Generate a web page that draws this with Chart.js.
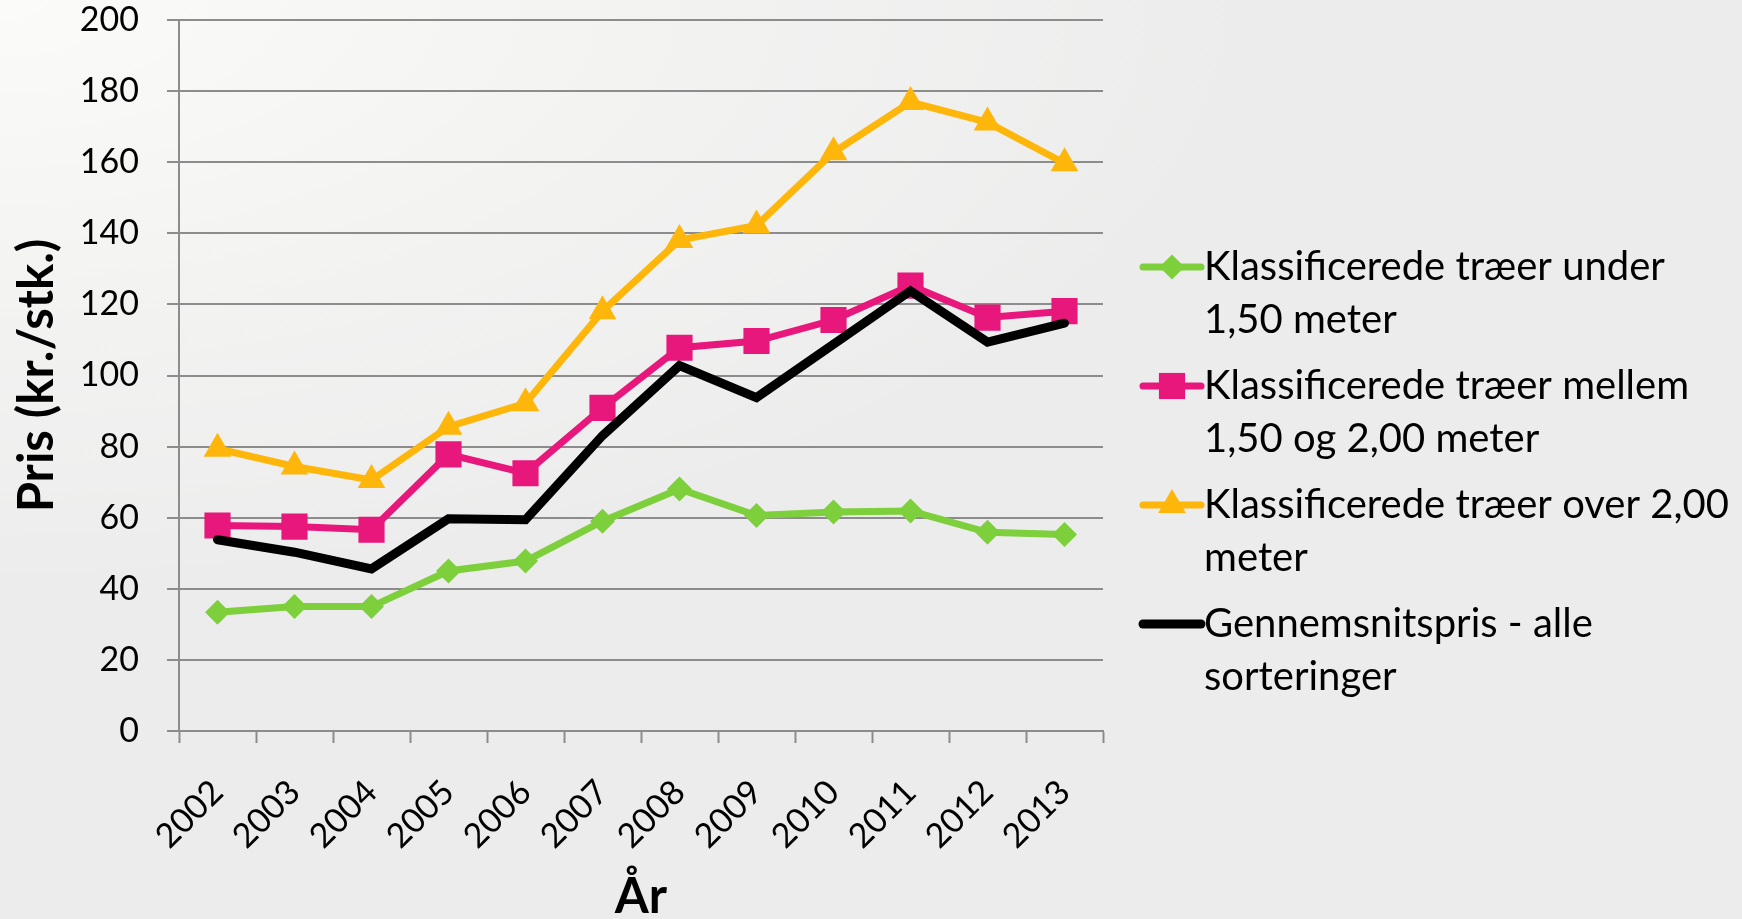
<!DOCTYPE html>
<html>
<head>
<meta charset="utf-8">
<script src="https://cdn.jsdelivr.net/npm/chart.js@4.4.0/dist/chart.umd.min.js"></script>
<style>
    html, body { margin: 0; padding: 0; }
    body {
        width: 1742px; height: 919px; overflow: hidden;
        background: radial-gradient(ellipse 90% 80% at 0% 0%, #fbfcf9 0%, #f2f3f1 45%, #ececec 80%);
    }
    #wrap { position: relative; width: 1742px; height: 919px; }
</style>
</head>
<body>
<div id="wrap"><canvas id="priceChart" width="1742" height="919"></canvas></div>
<script>
"use strict";

// data
var years = ["2002", "2003", "2004", "2005", "2006", "2007", "2008", "2009", "2010", "2011", "2012", "2013"];
var under150 = [33.4, 35.0, 35.0, 45.0, 47.8, 59.0, 68.1, 60.6, 61.6, 61.9, 55.9, 55.3];
var between150and200 = [57.8, 57.5, 56.6, 77.8, 72.5, 90.9, 107.8, 109.7, 115.6, 125.3, 116.3, 118.1];
var over200 = [79.4, 74.4, 70.6, 85.6, 92.2, 118.1, 138.1, 142.2, 162.8, 176.9, 171.2, 159.7];
var averageAll = [53.8, 50.3, 45.6, 59.7, 59.4, 83.1, 102.8, 93.8, 108.8, 123.8, 109.4, 114.7];
var legendLines = [
    ["Klassificerede træer under", "1,50 meter"],
    ["Klassificerede træer mellem", "1,50 og 2,00 meter"],
    ["Klassificerede træer over 2,00", "meter"],
    ["Gennemsnitspris - alle", "sorteringer"]
];

var green = "#7dcf3b";
var pink = "#e8177b";
var yellow = "#ffb60b";
var black = "#000000";
var gridGray = "#8c8c8c";
var fontName = "Lato";

// legend on the right, drawn by hand so labels can wrap
var sideLegend = {
    id: "sideLegend",
    afterDraw: function (chart) {
        var ctx = chart.ctx;
        var lineX = 1143, lineLen = 58, textX = 1204;
        var firstY = 267, itemGap = 119, lineH = 53;
        chart.data.datasets.forEach(function (ds, i) {
            var y = firstY + i * itemGap;
            ctx.save();
            ctx.strokeStyle = ds.borderColor;
            ctx.lineWidth = ds.borderWidth;
            ctx.lineCap = "round";
            ctx.beginPath();
            ctx.moveTo(lineX, y);
            ctx.lineTo(lineX + lineLen, y);
            ctx.stroke();
            if (ds.pointRadius > 0) {
                ctx.fillStyle = ds.pointBackgroundColor;
                Chart.helpers.drawPoint(ctx, {
                    pointStyle: ds.pointStyle, radius: ds.pointRadius, rotation: 0, borderWidth: 0
                }, lineX + lineLen / 2, y);
            }
            ctx.fillStyle = "#000";
            ctx.font = "40px " + fontName;
            ctx.textAlign = "left";
            ctx.textBaseline = "middle";
            legendLines[i].forEach(function (t, k) {
                ctx.fillText(t, textX, y + k * lineH);
            });
            ctx.restore();
        });
    }
};

var ctx = document.getElementById("priceChart");
var myChart = new Chart(ctx, {
    type: "line",
    data: {
        labels: years,
        datasets: [
            {
                label: legendLines[0].join(" "),
                data: under150,
                borderColor: green,
                backgroundColor: green,
                borderWidth: 7,
                pointStyle: "rectRot",
                pointRadius: 12.5,
                pointBackgroundColor: green,
                pointBorderWidth: 0,
                order: 1
            },
            {
                label: legendLines[1].join(" "),
                data: between150and200,
                borderColor: pink,
                backgroundColor: pink,
                borderWidth: 7,
                pointStyle: "rect",
                pointRadius: 18.5,
                pointBackgroundColor: pink,
                pointBorderWidth: 0,
                order: 1
            },
            {
                label: legendLines[2].join(" "),
                data: over200,
                borderColor: yellow,
                backgroundColor: yellow,
                borderWidth: 7,
                pointStyle: "triangle",
                pointRadius: 16,
                pointBackgroundColor: yellow,
                pointBorderWidth: 0,
                order: 1
            },
            {
                label: legendLines[3].join(" "),
                data: averageAll,
                borderColor: black,
                backgroundColor: black,
                borderWidth: 9,
                borderCapStyle: "round",
                pointRadius: 0,
                pointBackgroundColor: black,
                order: 0
            }
        ]
    },
    options: {
        responsive: false,
        animation: false,
        events: [],
        layout: { padding: { top: 20, left: 0, right: 639, bottom: 0 } },
        plugins: {
            legend: { display: false },
            tooltip: { enabled: false }
        },
        elements: { line: { tension: 0, borderJoinStyle: "miter" } },
        scales: {
            x: {
                offset: true,
                afterFit: function (scale) { scale.height = 188; },
                grid: {
                    offset: true,
                    drawOnChartArea: false,
                    drawTicks: true,
                    tickLength: 12,
                    tickWidth: 2,
                    tickColor: gridGray
                },
                border: { display: true, color: gridGray, width: 2 },
                ticks: {
                    minRotation: 45,
                    maxRotation: 45,
                    padding: 29,
                    color: "#000",
                    font: { family: fontName, size: 34 }
                },
                title: {
                    display: true,
                    text: "År",
                    color: "#000",
                    font: { family: fontName, size: 49, weight: "bold", lineHeight: 1.0 },
                    padding: { top: 0, bottom: -3 }
                }
            },
            y: {
                min: 0,
                max: 200,
                afterFit: function (scale) {
                    scale.width = 179;
                    scale.paddingTop = 0;
                    scale.paddingBottom = 0;
                },
                grid: {
                    color: gridGray,
                    lineWidth: 2,
                    drawTicks: true,
                    tickLength: 12,
                    tickColor: gridGray
                },
                border: { display: true, color: gridGray, width: 2 },
                ticks: {
                    stepSize: 20,
                    padding: 28,
                    color: "#000",
                    font: { family: fontName, size: 34 }
                },
                title: {
                    display: true,
                    text: "Pris (kr./stk.)",
                    color: "#000",
                    font: { family: fontName, size: 49, weight: "bold", lineHeight: 1.2 },
                    padding: { top: 8, bottom: 0 }
                }
            }
        }
    },
    plugins: [sideLegend]
});
</script>
</body>
</html>
